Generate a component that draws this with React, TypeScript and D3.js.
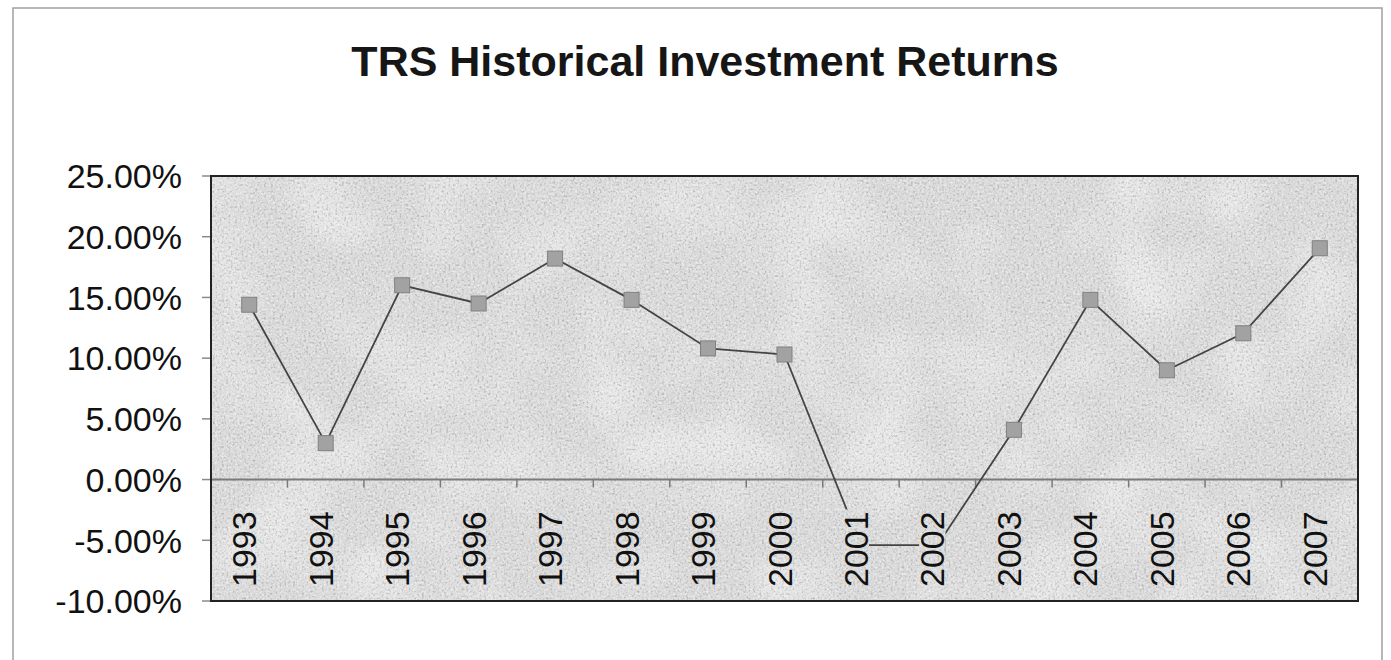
import React from "react";
import * as d3 from "d3";

const title = "TRS Historical Investment Returns";
const years = ["1993","1994","1995","1996","1997","1998","1999","2000","2001","2002","2003","2004","2005","2006","2007"];
const returns = [14.4, 3.0, 16.0, 14.5, 18.2, 14.8, 10.8, 10.3, -5.4, -5.4, 4.1, 14.8, 9.0, 12.05, 19.05];
const yTicks = [-10, -5, 0, 5, 10, 15, 20, 25];

const W = 1391, H = 660;
const PL = 211, PR = 1358, PT = 176, PB = 601;
const FONT = "'Liberation Sans', Arial, Helvetica, sans-serif";

export default function App() {
  const x = d3.scaleBand<string>().domain(years).range([PL, PR]).padding(0);
  const y = d3.scaleLinear().domain([-10, 25]).range([PB, PT]);
  const bw = x.bandwidth();
  const cx = (d: string) => (x(d) as number) + bw / 2;
  const pts: [number, number][] = years.map((d, i) => [cx(d), y(returns[i])]);
  const line = d3.line<[number, number]>().x(p => p[0]).y(p => p[1]);
  const fsLab = 34;
  const labBase = PB - 14;
  const labLen = 2.224 * fsLab;
  const capH = 0.716 * fsLab;
  const off = 7;
  const y0 = y(0);
  const ms = 15;
  const fmt = (v: number) => v.toFixed(2) + "%";

  return (
    <svg width={W} height={H} style={{ position: "absolute", left: 0, top: 0, background: "#fff" }}>
      <defs>
        <filter id="grain" x="0" y="0" width="1" height="1" colorInterpolationFilters="sRGB">
          <feTurbulence type="fractalNoise" baseFrequency="0.45" numOctaves="2" seed="4" result="n" />
          <feColorMatrix in="n" type="matrix" values="0 0 0 0 0.4  0 0 0 0 0.4  0 0 0 0 0.4  1.0 0 0 0 -0.5" result="d" />
          <feColorMatrix in="n" type="matrix" values="0 0 0 0 1  0 0 0 0 1  0 0 0 0 1  0 1.4 0 0 -0.62" result="l" />
          <feTurbulence type="fractalNoise" baseFrequency="0.012" numOctaves="2" seed="9" result="b" />
          <feColorMatrix in="b" type="matrix" values="0 0 0 0 1  0 0 0 0 1  0 0 0 0 1  0 0 1.0 0 -0.42" result="bl" />
          <feMerge>
            <feMergeNode in="SourceGraphic" />
            <feMergeNode in="bl" />
            <feMergeNode in="d" />
            <feMergeNode in="l" />
          </feMerge>
        </filter>
        <mask id="labMask" maskUnits="userSpaceOnUse" x="0" y="0" width={W} height={H}>
          <rect x={0} y={0} width={W} height={H} fill="#fff" />
          {years.map(d => (
            <rect key={d} x={cx(d) + off - capH - 1} y={labBase - labLen - 2} width={capH + 2} height={labLen + 3} fill="#000" />
          ))}
        </mask>
      </defs>

      {/* outer frame */}
      <path d={`M13,${H} L13,8 L1382,8 L1382,${H}`} fill="none" stroke="#a0a0a0" strokeWidth={1.5} />

      <text x={705} y={76} textAnchor="middle" fontFamily={FONT} fontWeight="bold" fontSize={43} fill="#161616">{title}</text>

      {/* plot background */}
      <rect x={PL} y={PT} width={PR - PL} height={PB - PT} fill="#d9d9d9" filter="url(#grain)" />

      {/* y ticks and labels */}
      {yTicks.map(t => (
        <g key={t}>
          <line x1={202} x2={PL} y1={y(t)} y2={y(t)} stroke="#8a8a8a" strokeWidth={1.5} />
          <text x={182} y={y(t)} dy="0.36em" textAnchor="end" fontFamily={FONT} fontSize={34} fill="#111">{fmt(t)}</text>
        </g>
      ))}

      {/* zero line and category ticks */}
      <line x1={PL} x2={PR} y1={y0} y2={y0} stroke="#7a7a7a" strokeWidth={2} />
      {years.slice(1).map(d => (
        <line key={d} x1={x(d) as number} x2={x(d) as number} y1={y0} y2={y0 + 8} stroke="#7a7a7a" strokeWidth={1.5} />
      ))}

      {/* series */}
      <g mask="url(#labMask)">
        <path d={line(pts) || ""} fill="none" stroke="#444" strokeWidth={1.8} />
        {pts.map((p, i) => (
          <rect key={years[i]} x={p[0] - ms / 2} y={p[1] - ms / 2} width={ms} height={ms} fill="#a2a2a2" stroke="#808080" strokeWidth={1} />
        ))}
      </g>

      {/* category labels */}
      {years.map(d => (
        <text key={d} transform={`translate(${cx(d) + off},${labBase}) rotate(-90)`} textAnchor="start" fontFamily={FONT} fontSize={fsLab} fill="#111">{d}</text>
      ))}

      {/* plot border */}
      <rect x={PL} y={PT} width={PR - PL} height={PB - PT} fill="none" stroke="#222" strokeWidth={2} />
    </svg>
  );
}
